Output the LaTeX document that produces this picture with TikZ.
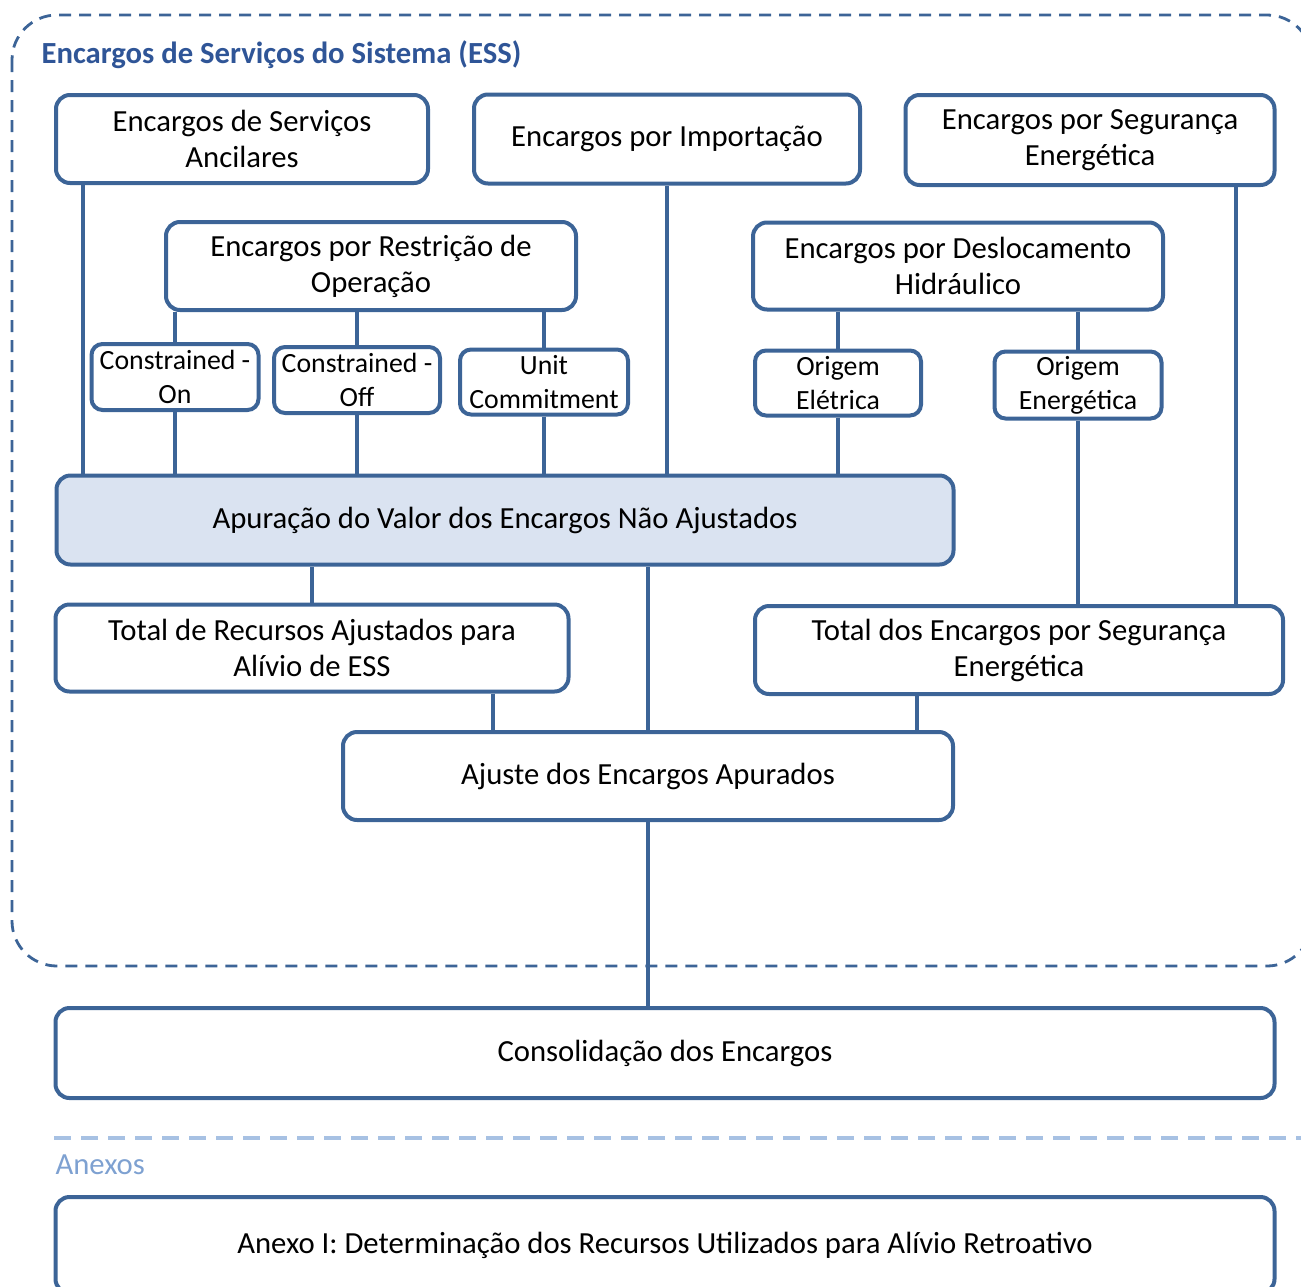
\documentclass[tikz,border=0pt]{standalone}
\usepackage{fontspec}
\setmainfont{Carlito}
\usepackage{xcolor}
\usepackage{tikz}
\usetikzlibrary{calc}

\definecolor{essblue}{HTML}{3C6497}
\definecolor{esstitle}{HTML}{2F5597}
\definecolor{essfill}{HTML}{DAE3F1}
\definecolor{annexline}{HTML}{A7C1E3}
\definecolor{annextext}{HTML}{7EA1D1}

\begin{document}
\begin{tikzpicture}[
  x=1pt, y=-1pt,
  font=\fontsize{30.7}{36}\selectfont,
  box/.style={draw=essblue, fill=white, line width=4pt, rounded corners=14pt, align=center, inner sep=0pt},
  smallbox/.style={box, rounded corners=11pt, font=\fontsize{27.8}{34}\selectfont},
  link/.style={draw=essblue, line width=4pt},
  frame/.style={draw=essblue, line width=2.8pt, dash pattern=on 12pt off 8pt, rounded corners=45pt},
]
\useasboundingbox (0,0) rectangle (1301,1286);

% --- Outer frame: ESS ---
\draw[frame] (12,15) rectangle (1312,966);
\node[anchor=west, font=\fontsize{30.7}{36}\selectfont\bfseries, text=esstitle] (title) at (38,55) {Encargos de Serviços do Sistema (ESS)};

% --- Top row ---
\node[box, minimum width=372pt, minimum height=88pt] (anc) at (242,139) {Encargos de Serviços\\Ancilares};
\node[box, minimum width=386pt, minimum height=89pt] (imp) at (667,139) {Encargos por Importação};
\node[box, minimum width=369pt, minimum height=90pt] (seg) at (1090,140) {Encargos por Segurança\\Energética};

% --- Second row ---
\node[box, minimum width=410pt, minimum height=88pt] (res) at (371,266) {Encargos por Restrição de\\Operação};
\node[box, minimum width=410pt, minimum height=87pt] (des) at (958,266) {Encargos por Deslocamento\\Hidráulico};

% --- Small boxes ---
\node[smallbox, minimum width=167pt, minimum height=66pt] (conon) at (175,377) {Constrained -\\On};
\node[smallbox, minimum width=166pt, minimum height=66pt] (conoff) at (357,380) {Constrained -\\Off};
\node[smallbox, minimum width=168pt, minimum height=65pt] (unit) at (544,382) {Unit\\Commitment};
\node[smallbox, minimum width=166pt, minimum height=65pt] (orel) at (838,383) {Origem\\Elétrica};
\node[smallbox, minimum width=167pt, minimum height=67pt] (oren) at (1078,385) {Origem\\Energética};

% --- Apuracao ---
\node[box, fill=essfill, minimum width=897pt, minimum height=89pt] (apur) at (505,520) {Apuração do Valor dos Encargos Não Ajustados};

% --- Totals ---
\node[box, minimum width=513pt, minimum height=87pt] (trec) at (312,648) {Total de Recursos Ajustados para\\Alívio de ESS};
\node[box, minimum width=528pt, minimum height=88pt] (tseg) at (1019,650) {Total dos Encargos por Segurança\\Energética};

% --- Ajuste ---
\node[box, minimum width=610pt, minimum height=88pt] (aju) at (648,776) {Ajuste dos Encargos Apurados};

% --- Consolidacao ---
\node[box, minimum width=1219pt, minimum height=90pt] (cons) at (665,1053) {Consolidação dos Encargos};

% --- Anexos ---
\draw[annexline, line width=4pt, dash pattern=on 17pt off 10pt] (54,1138) -- (1310,1138);
\node[anchor=west, text=annextext] (anexos) at (52,1165) {Anexos};
\node[box, minimum width=1219pt, minimum height=96pt] (anx) at (665,1245) {Anexo I: Determinação dos Recursos Utilizados para Alívio Retroativo};

% --- Links into Apuracao ---
\draw[link] (anc.south -| 83,0) -- (apur.north -| 83,0);
\draw[link] (res.south -| conon.north) -- (conon.north);
\draw[link] (conon.south) -- (apur.north -| conon.south);
\draw[link] (res.south -| conoff.north) -- (conoff.north);
\draw[link] (conoff.south) -- (apur.north -| conoff.south);
\draw[link] (res.south -| unit.north) -- (unit.north);
\draw[link] (unit.south) -- (apur.north -| unit.south);
\draw[link] (imp.south) -- (apur.north -| imp.south);
\draw[link] (des.south -| orel.north) -- (orel.north);
\draw[link] (orel.south) -- (apur.north -| orel.south);

% --- Links into Total Seguranca ---
\draw[link] (des.south -| oren.north) -- (oren.north);
\draw[link] (oren.south) -- (tseg.north -| oren.south);
\draw[link] (seg.south -| 1236,0) -- (tseg.north -| 1236,0);

% --- Links into Ajuste ---
\draw[link] (apur.south -| trec.north) -- (trec.north);
\draw[link] (apur.south -| aju.north) -- (aju.north);
\draw[link] (trec.south -| 493,0) -- (aju.north -| 493,0);
\draw[link] (tseg.south -| 917,0) -- (aju.north -| 917,0);
\draw[link] (aju.south) -- (cons.north -| aju.south);

\end{tikzpicture}
\end{document}
